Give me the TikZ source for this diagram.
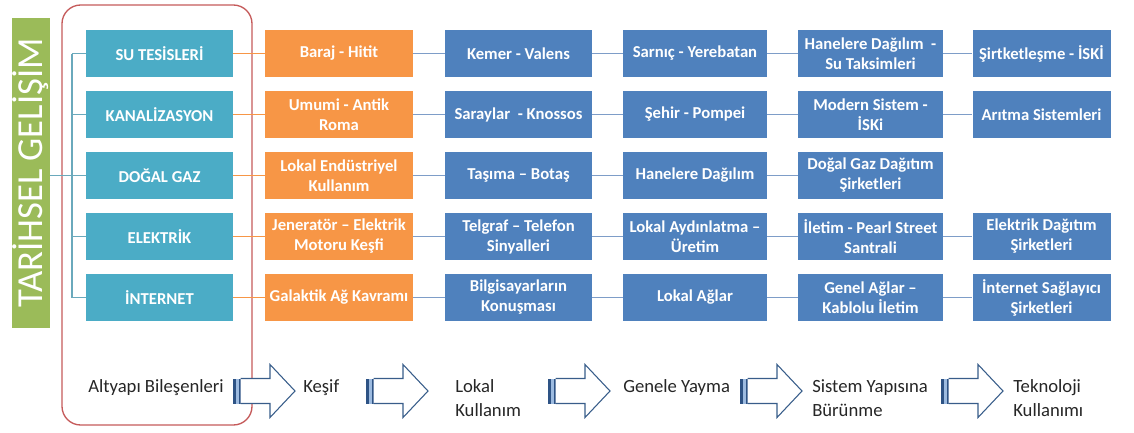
\documentclass[tikz,border=0pt]{standalone}
\usepackage{fontspec}
\setmainfont{Carlito}
\definecolor{barGreen}{HTML}{9BBB59}
\definecolor{compTeal}{HTML}{4BACC6}
\definecolor{firstOrange}{HTML}{F79646}
\definecolor{stageBlue}{HTML}{4F81BD}
\definecolor{frameRed}{HTML}{C55A5A}
\definecolor{spineTeal}{HTML}{6AA9BC}
\definecolor{linkBlue}{HTML}{7E9DC8}
\definecolor{arrowEdge}{HTML}{385D8A}
\definecolor{arrowDark}{HTML}{2E5385}
\definecolor{arrowLight}{HTML}{9DBBE0}
\definecolor{inkGray}{HTML}{262626}
\tikzset{
  box/.style={minimum height=35.25pt, inner sep=1pt, align=center, text=white,
    font=\fontsize{12.5}{15}\selectfont\bfseries},
  comp/.style={box, fill=compTeal, minimum width=110.25pt},
  first/.style={box, fill=firstOrange, minimum width=111pt},
  stage/.style={box, fill=stageBlue},
  spine/.style={draw=spineTeal, line width=0.8pt},
  orlink/.style={draw=firstOrange, line width=0.8pt},
  bllink/.style={draw=linkBlue, line width=0.8pt},
  phase/.style={anchor=west, inner sep=0pt, align=left, text=inkGray,
    font=\fontsize{14}{18}\selectfont},
  blockarrow/.pic={
    \fill[arrowDark] (0,-12.5) rectangle (3,12.5);
    \fill[arrowLight] (3,-12.5) rectangle (5.5,12.5);
    \fill[arrowDark] (5.5,-12.5) rectangle (7.5,12.5);
    \draw[arrowEdge, fill=white, line width=0.8pt, line join=miter]
      (7.5,-12.5) -- (37,-12.5) -- (37,-26.5) -- (62,0) -- (37,26.5)
      -- (37,12.5) -- (7.5,12.5);
  }
}
\begin{document}
\begin{tikzpicture}[x=0.75pt, y=-0.75pt]
\useasboundingbox (0,0) rectangle (1134,432);

% title bar
\node[fill=barGreen, rotate=90, minimum width=232.5pt, minimum height=28.5pt,
      inner sep=0pt, text=white, font=\fontsize{27.5}{28}\selectfont]
  (title) at (31,173) {TARİHSEL GELİŞİM};

% frame around the component column
\draw[frameRed, line width=1pt, rounded corners=14pt] (62,5) rectangle (252,425);

% row 1: water
\node[comp]  (r1c0) at (159.5,53.5) {SU TESİSLERİ};
\node[first] (r1c1) at (339,53.5)   {Baraj - Hitit};
\node[stage, minimum width=110.25pt] (r1c2) at (518.5,53.5) {Kemer - Valens};
\node[stage, minimum width=108pt]    (r1c3) at (695,53.5)   {Sarnıç - Yerebatan};
\node[stage, minimum width=108.75pt] (r1c4) at (870.5,53.5) {Hanelere Dağılım \ -\\Su Taksimleri};
\node[stage, minimum width=103.5pt]  (r1c5) at (1041.5,53.5) {Şirtketleşme - İSKİ};

% row 2: sewerage
\node[comp]  (r2c0) at (159.5,114.5) {KANALİZASYON};
\node[first] (r2c1) at (339,114.5)   {Umumi - Antik\\Roma};
\node[stage, minimum width=110.25pt] (r2c2) at (518.5,114.5) {Saraylar \ - Knossos};
\node[stage, minimum width=108pt]    (r2c3) at (695,114.5)   {Şehir - Pompei};
\node[stage, minimum width=108.75pt] (r2c4) at (870.5,114.5) {Modern Sistem -\\İSKi};
\node[stage, minimum width=103.5pt]  (r2c5) at (1041.5,114.5) {Arıtma Sistemleri};

% row 3: natural gas
\node[comp]  (r3c0) at (159.5,175.5) {DOĞAL GAZ};
\node[first] (r3c1) at (339,175.5)   {Lokal Endüstriyel\\Kullanım};
\node[stage, minimum width=110.25pt] (r3c2) at (518.5,175.5) {Taşıma – Botaş};
\node[stage, minimum width=108pt]    (r3c3) at (695,175.5)   {Hanelere Dağılım};
\node[stage, minimum width=108.75pt] (r3c4) at (870.5,175.5) {Doğal Gaz Dağıtım\\Şirketleri};

% row 4: electricity
\node[comp]  (r4c0) at (159.5,236.5) {ELEKTRİK};
\node[first] (r4c1) at (339,236.5)   {Jeneratör – Elektrik\\Motoru Keşfi};
\node[stage, minimum width=110.25pt] (r4c2) at (518.5,236.5) {Telgraf – Telefon\\Sinyalleri};
\node[stage, minimum width=108pt]    (r4c3) at (695,236.5)   {Lokal Aydınlatma –\\Üretim};
\node[stage, minimum width=108.75pt] (r4c4) at (870.5,236.5) {İletim - Pearl Street\\Santrali};
\node[stage, minimum width=103.5pt]  (r4c5) at (1041.5,236.5) {Elektrik Dağıtım\\Şirketleri};

% row 5: internet
\node[comp]  (r5c0) at (159.5,297.5) {İNTERNET};
\node[first] (r5c1) at (339,297.5)   {Galaktik Ağ Kavramı};
\node[stage, minimum width=110.25pt] (r5c2) at (518.5,297.5) {Bilgisayarların\\Konuşması};
\node[stage, minimum width=108pt]    (r5c3) at (695,297.5)   {Lokal Ağlar};
\node[stage, minimum width=108.75pt] (r5c4) at (870.5,297.5) {Genel Ağlar –\\Kablolu İletim};
\node[stage, minimum width=103.5pt]  (r5c5) at (1041.5,297.5) {İnternet Sağlayıcı\\Şirketleri};

% bracket joining the title bar to the components
\coordinate (spinetop) at (72,53.5);
\coordinate (spinebot) at (72,297.5);
\draw[spine] (spinetop) -- (spinebot);
\draw[spine] (r3c0.west -| title.south) -- (r3c0.west -| spinetop);
\foreach \r in {1,...,5} {
  \draw[spine] (r\r c0.west -| spinetop) -- (r\r c0.west);
  \draw[orlink] (r\r c0) -- (r\r c1);
  \draw[bllink] (r\r c1) -- (r\r c2);
  \draw[bllink] (r\r c2) -- (r\r c3);
  \draw[bllink] (r\r c3) -- (r\r c4);
}
\foreach \r in {1,2,4,5} {
  \draw[bllink] (r\r c4) -- (r\r c5);
}

% development phases along the bottom
\node[phase] (p0) at (88,388)   {Altyapı Bileşenleri};
\pic at (233,391) {blockarrow};
\node[phase] (p1) at (303,388)  {Keşif};
\pic at (366,391) {blockarrow};
\node[phase] (p2) at (455,398)  {Lokal\\Kullanım};
\pic at (548,391) {blockarrow};
\node[phase] (p3) at (623,388)  {Genele Yayma};
\pic at (740,391) {blockarrow};
\node[phase] (p4) at (812,398)  {Sistem Yapısına\\Bürünme};
\pic at (941,391) {blockarrow};
\node[phase] (p5) at (1013,398) {Teknoloji\\Kullanımı};
\end{tikzpicture}
\end{document}
